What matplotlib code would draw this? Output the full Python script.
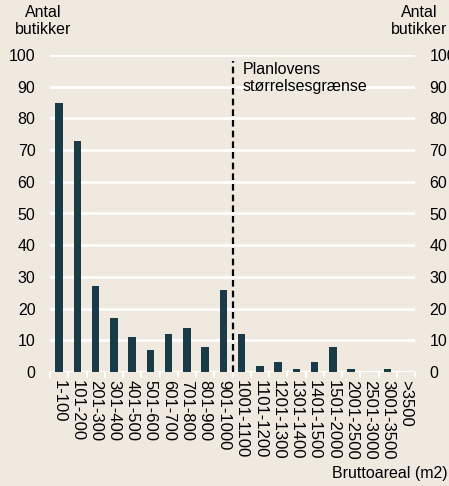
import matplotlib.pyplot as plt
import numpy as np

categories = ["1-100", "101-200", "201-300", "301-400", "401-500", "501-600",
              "601-700", "701-800", "801-900", "901-1000", "1001-1100",
              "1101-1200", "1201-1300", "1301-1400", "1401-1500",
              "1501-2000", "2001-2500", "2501-3000", "3001-3500", ">3500"]
counts = [85, 73, 27, 17, 11, 7, 12, 14, 8, 26, 12, 2, 3, 1, 3, 8, 1, 0, 1, 0]
yticks = [0, 10, 20, 30, 40, 50, 60, 70, 80, 90, 100]

bg = "#EFE9DF"
bar_color = "#1B3A47"
fs = 11.5

plt.rcParams["font.family"] = ["Liberation Sans", "DejaVu Sans"]

fig = plt.figure(figsize=(4.49, 4.86), dpi=100, facecolor=bg)
ax = fig.add_axes([50 / 449, 114 / 486, 365 / 449, 317 / 486], facecolor=bg)

x = np.arange(len(categories))
ax.bar(x, counts, width=0.4, color=bar_color, zorder=3)

ax.set_xlim(-0.5, len(categories) - 0.5)
ax.set_ylim(0, 100)
ax.set_yticks(yticks)
ax.yaxis.grid(True, color="white", linewidth=2, zorder=1)
for s in ax.spines.values():
    s.set_visible(False)
ax.axhline(0, color="white", linewidth=2, zorder=2)

# category labels, with small white ticks on the category boundaries
ax.set_xticks(x)
ax.set_xticklabels(categories, rotation=270, fontsize=12, va="top", ha="center")
ax.tick_params(axis="x", length=0, pad=6)
ax.set_xticks(np.arange(-0.5, len(categories), 1), minor=True)
ax.tick_params(axis="x", which="minor", length=4, width=1.5, color="white")

ax.tick_params(axis="y", length=0, labelsize=fs, pad=10.5, labelright=True)

# dashed threshold line
ax.plot([9.5, 9.5], [0, 98], color="black", linestyle=(0, (3, 1.8)),
        linewidth=1.6, zorder=4)
ax.text(10.05, 97.8, "Planlovens\nstørrelsesgrænse", fontsize=fs,
        va="top", ha="left", linespacing=1.15, zorder=5)

fig.text(43 / 449, 1 - 5 / 486, "Antal\nbutikker", ha="center", va="top",
         fontsize=fs, linespacing=1.15)
fig.text(419 / 449, 1 - 5 / 486, "Antal\nbutikker", ha="center", va="top",
         fontsize=fs, linespacing=1.15)
fig.text(1 - 1 / 449, 1 - 478 / 486, "Bruttoareal (m2)", ha="right",
         va="baseline", fontsize=fs)

fig.savefig("out.png", dpi=100, facecolor=bg)
